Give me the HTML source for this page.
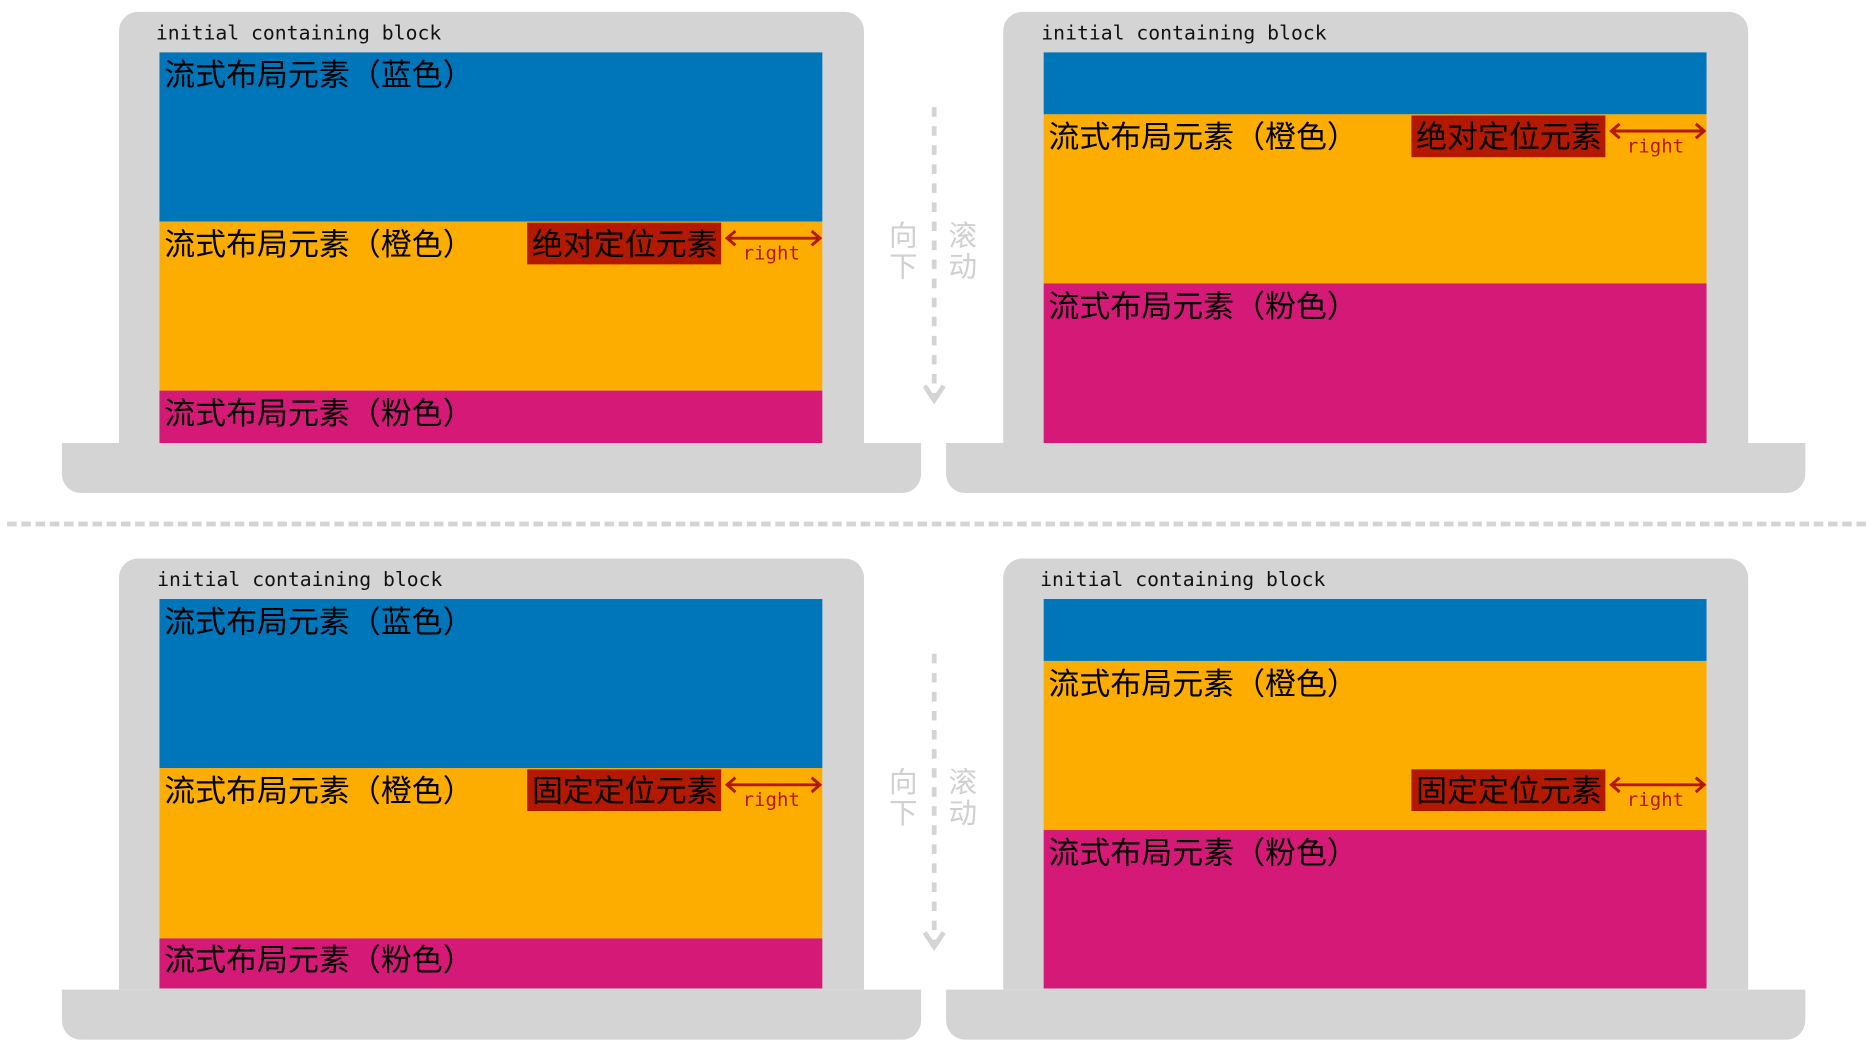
<!DOCTYPE html>
<html><head><meta charset="utf-8">
<style>
html,body{margin:0;padding:0;background:#fff;width:1866px;height:1048px;overflow:hidden}
#stage{position:absolute;left:0;top:0;width:1568px;height:880px;transform-origin:0 0;transform:scale(1.19005,1.1909)}
.abs{position:absolute}
.frame{background:#d4d4d4;border-radius:16px 16px 0 0}
.base{background:#d4d4d4;border-radius:0 0 16px 16px}
.lbl{font-family:"DejaVu Sans Mono","Liberation Mono",monospace;font-size:16.6px;color:#111;white-space:nowrap}
.cn{font-family:"Liberation Sans","Noto Sans CJK SC",sans-serif;font-size:26px;color:#000;white-space:nowrap;line-height:28px}
.blue{background:#0076ba}.orange{background:#fdad00}.pink{background:#d41a76}
.red{background:#b31800}
.rt{font-family:"DejaVu Sans Mono","Liberation Mono",monospace;font-size:16px;color:#b31800}
.gray{font-family:"Liberation Sans","Noto Sans CJK SC",sans-serif;font-size:24px;color:#d0d0d0;line-height:26px;width:26px}
</style></head><body>
<div id="stage">

<!-- top-left -->
<div class="abs frame" style="left:100px;top:10px;width:626px;height:362px"></div>
<div class="abs base" style="left:52px;top:372px;width:722px;height:42px"></div>
<div class="abs lbl" style="left:131px;top:18px">initial containing block</div>
<div class="abs blue" style="left:134px;top:44px;width:557px;height:142px"><div class="abs cn" style="left:4px;top:5px">流式布局元素（蓝色）</div></div>
<div class="abs orange" style="left:134px;top:186px;width:557px;height:142px"><div class="abs cn" style="left:4px;top:5px">流式布局元素（橙色）</div></div>
<div class="abs pink" style="left:134px;top:328px;width:557px;height:44px"><div class="abs cn" style="left:4px;top:5px">流式布局元素（粉色）</div></div>
<div class="abs red" style="left:443px;top:187px;width:163px;height:35px"><div class="abs cn" style="left:4px;top:4px">绝对定位元素</div></div>
<svg class="abs" style="left:608px;top:192px" width="84" height="16"><path d="M4 8H80M10 2L3 8L10 14M74 2L81 8L74 14" stroke="#b31800" stroke-width="2.5" fill="none"/></svg>
<div class="abs rt" style="left:624px;top:203px">right</div>

<!-- top-right -->
<div class="abs frame" style="left:843px;top:10px;width:626px;height:362px"></div>
<div class="abs base" style="left:795px;top:372px;width:722px;height:42px"></div>
<div class="abs lbl" style="left:875px;top:18px">initial containing block</div>
<div class="abs blue" style="left:877px;top:44px;width:557px;height:52px"></div>
<div class="abs orange" style="left:877px;top:96px;width:557px;height:142px"><div class="abs cn" style="left:4px;top:5px">流式布局元素（橙色）</div></div>
<div class="abs pink" style="left:877px;top:238px;width:557px;height:134px"><div class="abs cn" style="left:4px;top:5px">流式布局元素（粉色）</div></div>
<div class="abs red" style="left:1186px;top:97px;width:163px;height:35px"><div class="abs cn" style="left:4px;top:4px">绝对定位元素</div></div>
<svg class="abs" style="left:1351px;top:102px" width="84" height="16"><path d="M4 8H80M10 2L3 8L10 14M74 2L81 8L74 14" stroke="#b31800" stroke-width="2.5" fill="none"/></svg>
<div class="abs rt" style="left:1367px;top:113px">right</div>

<!-- scroll indicator top -->
<svg class="abs" style="left:774px;top:88px" width="22" height="256"><line x1="11" y1="2" x2="11" y2="244" stroke="#d4d4d4" stroke-width="4" stroke-dasharray="8,8"/><path d="M3 236L11 248L19 236" stroke="#d4d4d4" stroke-width="4" fill="none"/></svg>
<div class="abs gray" style="left:747px;top:186px">向下</div>
<div class="abs gray" style="left:797px;top:186px">滚动</div>

<!-- divider -->
<div class="abs" style="left:6px;top:438px;width:1562px;height:0;border-top:4px dashed #d4d4d4"></div>

<!-- bottom-left -->
<div class="abs frame" style="left:100px;top:469px;width:626px;height:362px"></div>
<div class="abs base" style="left:52px;top:831px;width:722px;height:42px"></div>
<div class="abs lbl" style="left:132px;top:477px">initial containing block</div>
<div class="abs blue" style="left:134px;top:503px;width:557px;height:142px"><div class="abs cn" style="left:4px;top:5px">流式布局元素（蓝色）</div></div>
<div class="abs orange" style="left:134px;top:645px;width:557px;height:143px"><div class="abs cn" style="left:4px;top:5px">流式布局元素（橙色）</div></div>
<div class="abs pink" style="left:134px;top:788px;width:557px;height:42px"><div class="abs cn" style="left:4px;top:4px">流式布局元素（粉色）</div></div>
<div class="abs red" style="left:443px;top:646px;width:163px;height:35px"><div class="abs cn" style="left:4px;top:4px">固定定位元素</div></div>
<svg class="abs" style="left:608px;top:651px" width="84" height="16"><path d="M4 8H80M10 2L3 8L10 14M74 2L81 8L74 14" stroke="#b31800" stroke-width="2.5" fill="none"/></svg>
<div class="abs rt" style="left:624px;top:662px">right</div>

<!-- bottom-right -->
<div class="abs frame" style="left:843px;top:469px;width:626px;height:362px"></div>
<div class="abs base" style="left:795px;top:831px;width:722px;height:42px"></div>
<div class="abs lbl" style="left:874px;top:477px">initial containing block</div>
<div class="abs blue" style="left:877px;top:503px;width:557px;height:52px"></div>
<div class="abs orange" style="left:877px;top:555px;width:557px;height:142px"><div class="abs cn" style="left:4px;top:5px">流式布局元素（橙色）</div></div>
<div class="abs pink" style="left:877px;top:697px;width:557px;height:133px"><div class="abs cn" style="left:4px;top:5px">流式布局元素（粉色）</div></div>
<div class="abs red" style="left:1186px;top:646px;width:163px;height:35px"><div class="abs cn" style="left:4px;top:4px">固定定位元素</div></div>
<svg class="abs" style="left:1351px;top:651px" width="84" height="16"><path d="M4 8H80M10 2L3 8L10 14M74 2L81 8L74 14" stroke="#b31800" stroke-width="2.5" fill="none"/></svg>
<div class="abs rt" style="left:1367px;top:662px">right</div>

<!-- scroll indicator bottom -->
<svg class="abs" style="left:774px;top:547px" width="22" height="256"><line x1="11" y1="2" x2="11" y2="244" stroke="#d4d4d4" stroke-width="4" stroke-dasharray="8,8"/><path d="M3 236L11 248L19 236" stroke="#d4d4d4" stroke-width="4" fill="none"/></svg>
<div class="abs gray" style="left:747px;top:645px">向下</div>
<div class="abs gray" style="left:797px;top:645px">滚动</div>

</div>
</body></html>
